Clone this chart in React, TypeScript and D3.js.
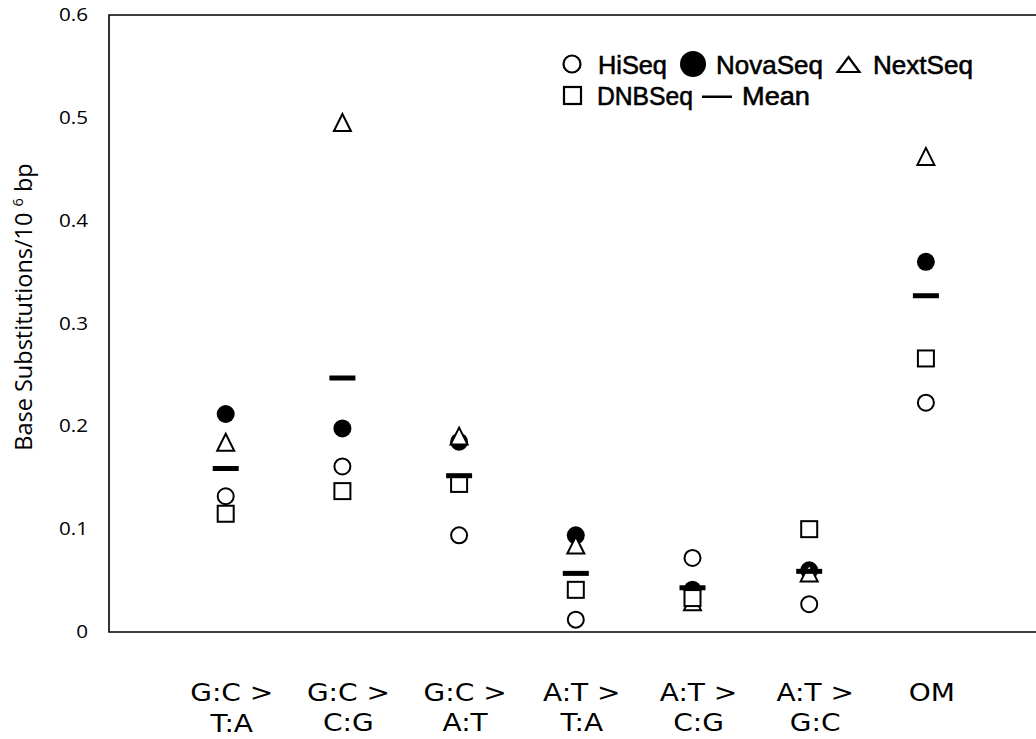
import React, { useEffect, useRef } from "react";
import * as d3 from "d3";

const categories = [
  ["G:C >", "T:A"],
  ["G:C >", "C:G"],
  ["G:C >", "A:T"],
  ["A:T >", "T:A"],
  ["A:T >", "C:G"],
  ["A:T >", "G:C"],
  ["OM", ""],
];
const hiSeq = [0.132, 0.161, 0.094, 0.012, 0.072, 0.027, 0.223];
const novaSeq = [0.212, 0.198, 0.185, 0.094, 0.041, 0.06, 0.36];
const nextSeq = [0.184, 0.495, 0.19, 0.084, 0.029, 0.057, 0.462];
const dnbSeq = [0.115, 0.137, 0.144, 0.041, 0.033, 0.1, 0.266];
const meanVals = [0.159, 0.247, 0.152, 0.057, 0.043, 0.059, 0.327];
const yTicks = [0, 0.1, 0.2, 0.3, 0.4, 0.5, 0.6];

const W = 1036;
const H = 739;

function triPath(cx: number, cy: number, hw: number, up: number, down: number) {
  return `M${cx},${cy - up}L${cx + hw},${cy + down}L${cx - hw},${cy + down}Z`;
}

export default function App() {
  const ref = useRef<SVGSVGElement>(null);
  useEffect(() => {
    const svg = d3.select(ref.current);
    svg.selectAll("*").remove();
    const left = 109, top = 15, bottom = 632;
    const x = d3.scaleLinear().domain([0, 8]).range([left, left + 8 * 116.7]);
    const y = d3.scaleLinear().domain([0, 0.6]).range([bottom, top]);

    // frame
    svg.append("path")
      .attr("d", `M${x(8)},${top}H${left}V${bottom}H${x(8)}`)
      .attr("fill", "none").attr("stroke", "#000").attr("stroke-width", 1.6);

    // y ticks
    const yAxisFont = "'Open Sans', 'Liberation Sans', sans-serif";
    svg.append("g").selectAll("g").data(yTicks).join("g")
      .attr("transform", (d) => `translate(88,${y(d) + 6}) scale(1.18,1)`)
      .append("text")
      .attr("text-anchor", "end").attr("font-family", yAxisFont)
      .attr("font-size", 17.5).attr("fill", "#000")
      .text((d) => (d === 0 ? "0" : d3.format(".1f")(d)));

    // y label
    const yl = svg.append("text")
      .attr("transform", `translate(32,307) rotate(-90)`)
      .attr("text-anchor", "middle").attr("font-family", yAxisFont)
      .attr("font-size", 23.5).attr("fill", "#000");
    yl.append("tspan").text("Base Substitutions/10 ");
    yl.append("tspan").attr("font-size", 14.5).attr("dy", -9).text("6");
    yl.append("tspan").attr("dy", 9).text(" bp");

    // x labels
    const xFont = "'DejaVu Sans', sans-serif";
    const gx = svg.append("g");
    categories.forEach((c, i) => {
      const cx = x(i + 1) + 6;
      const g1 = gx.append("g").attr("transform", `translate(${cx},0) scale(1.12,1)`);
      const t = g1.append("text").attr("text-anchor", "middle")
        .attr("font-family", xFont).attr("font-size", 25).attr("fill", "#000");
      t.append("tspan").attr("x", 0).attr("y", 701).text(c[0]);
      if (c[1]) t.append("tspan").attr("x", 0).attr("y", i === 0 ? 732 : 731).text(c[1]);
    });

    const g = svg.append("g");
    // HiSeq
    g.selectAll("circle.hi").data(hiSeq).join("circle").attr("class", "hi")
      .attr("cx", (_, i) => x(i + 1)).attr("cy", (d) => y(d)).attr("r", 8)
      .attr("fill", "#fff").attr("stroke", "#000").attr("stroke-width", 2);
    // NovaSeq
    g.selectAll("circle.nova").data(novaSeq).join("circle").attr("class", "nova")
      .attr("cx", (_, i) => x(i + 1)).attr("cy", (d) => y(d)).attr("r", 9)
      .attr("fill", "#000");
    // NextSeq
    g.selectAll("path.next").data(nextSeq).join("path").attr("class", "next")
      .attr("d", (d, i) => triPath(x(i + 1), y(d), 8.5, 9, 8))
      .attr("fill", "#fff").attr("stroke", "#000").attr("stroke-width", 2);
    // DNBSeq
    g.selectAll("rect.dnb").data(dnbSeq).join("rect").attr("class", "dnb")
      .attr("x", (_, i) => x(i + 1) - 8).attr("y", (d) => y(d) - 8)
      .attr("width", 16).attr("height", 16)
      .attr("fill", "#fff").attr("stroke", "#000").attr("stroke-width", 2);
    // Mean
    g.selectAll("rect.mean").data(meanVals).join("rect").attr("class", "mean")
      .attr("x", (_, i) => x(i + 1) - 13).attr("y", (d) => y(d) - 2.5)
      .attr("width", 26).attr("height", 5).attr("fill", "#000");

    // legend
    const lf = "'Liberation Sans Narrow', 'Liberation Sans', Arial, sans-serif";
    const lg = svg.append("g");
    const b1 = 73.5, b2 = 105;
    lg.append("circle").attr("cx", 572).attr("cy", 64).attr("r", 8.5)
      .attr("fill", "#fff").attr("stroke", "#000").attr("stroke-width", 2.2);
    lg.append("circle").attr("cx", 693).attr("cy", 64).attr("r", 13).attr("fill", "#000");
    lg.append("path").attr("d", triPath(848.5, 65, 11, 8, 7))
      .attr("fill", "#fff").attr("stroke", "#000").attr("stroke-width", 2.2);
    lg.append("rect").attr("x", 564).attr("y", 87).attr("width", 17).attr("height", 17)
      .attr("fill", "#fff").attr("stroke", "#000").attr("stroke-width", 2.2);
    lg.append("rect").attr("x", 702).attr("y", 95.5).attr("width", 30).attr("height", 2.5).attr("fill", "#000");
    const labels: [string, number, number, number][] = [
      ["HiSeq", 598, b1, 69], ["NovaSeq", 716, b1, 107], ["NextSeq", 873, b1, 100],
      ["DNBSeq", 597, b2, 96], ["Mean", 742, b2, 68],
    ];
    labels.forEach(([txt, lx, ly, w]) => {
      const gg = lg.append("g");
      const t = gg.append("text").attr("x", 0).attr("y", 0)
        .attr("font-family", lf).attr("font-size", 26.5)
        .attr("stroke", "#000").attr("stroke-width", 0.6)
        .attr("fill", "#000").text(txt);
      const node = t.node() as SVGTextElement;
      const len = node.getComputedTextLength() || w;
      gg.attr("transform", `translate(${lx},${ly}) scale(${w / len},1)`);
    });
  }, []);
  return (
    <div style={{ position: "fixed", left: 0, top: 0 }}>
      <svg ref={ref} width={W} height={H} style={{ display: "block", background: "#fff" }} />
    </div>
  );
}
